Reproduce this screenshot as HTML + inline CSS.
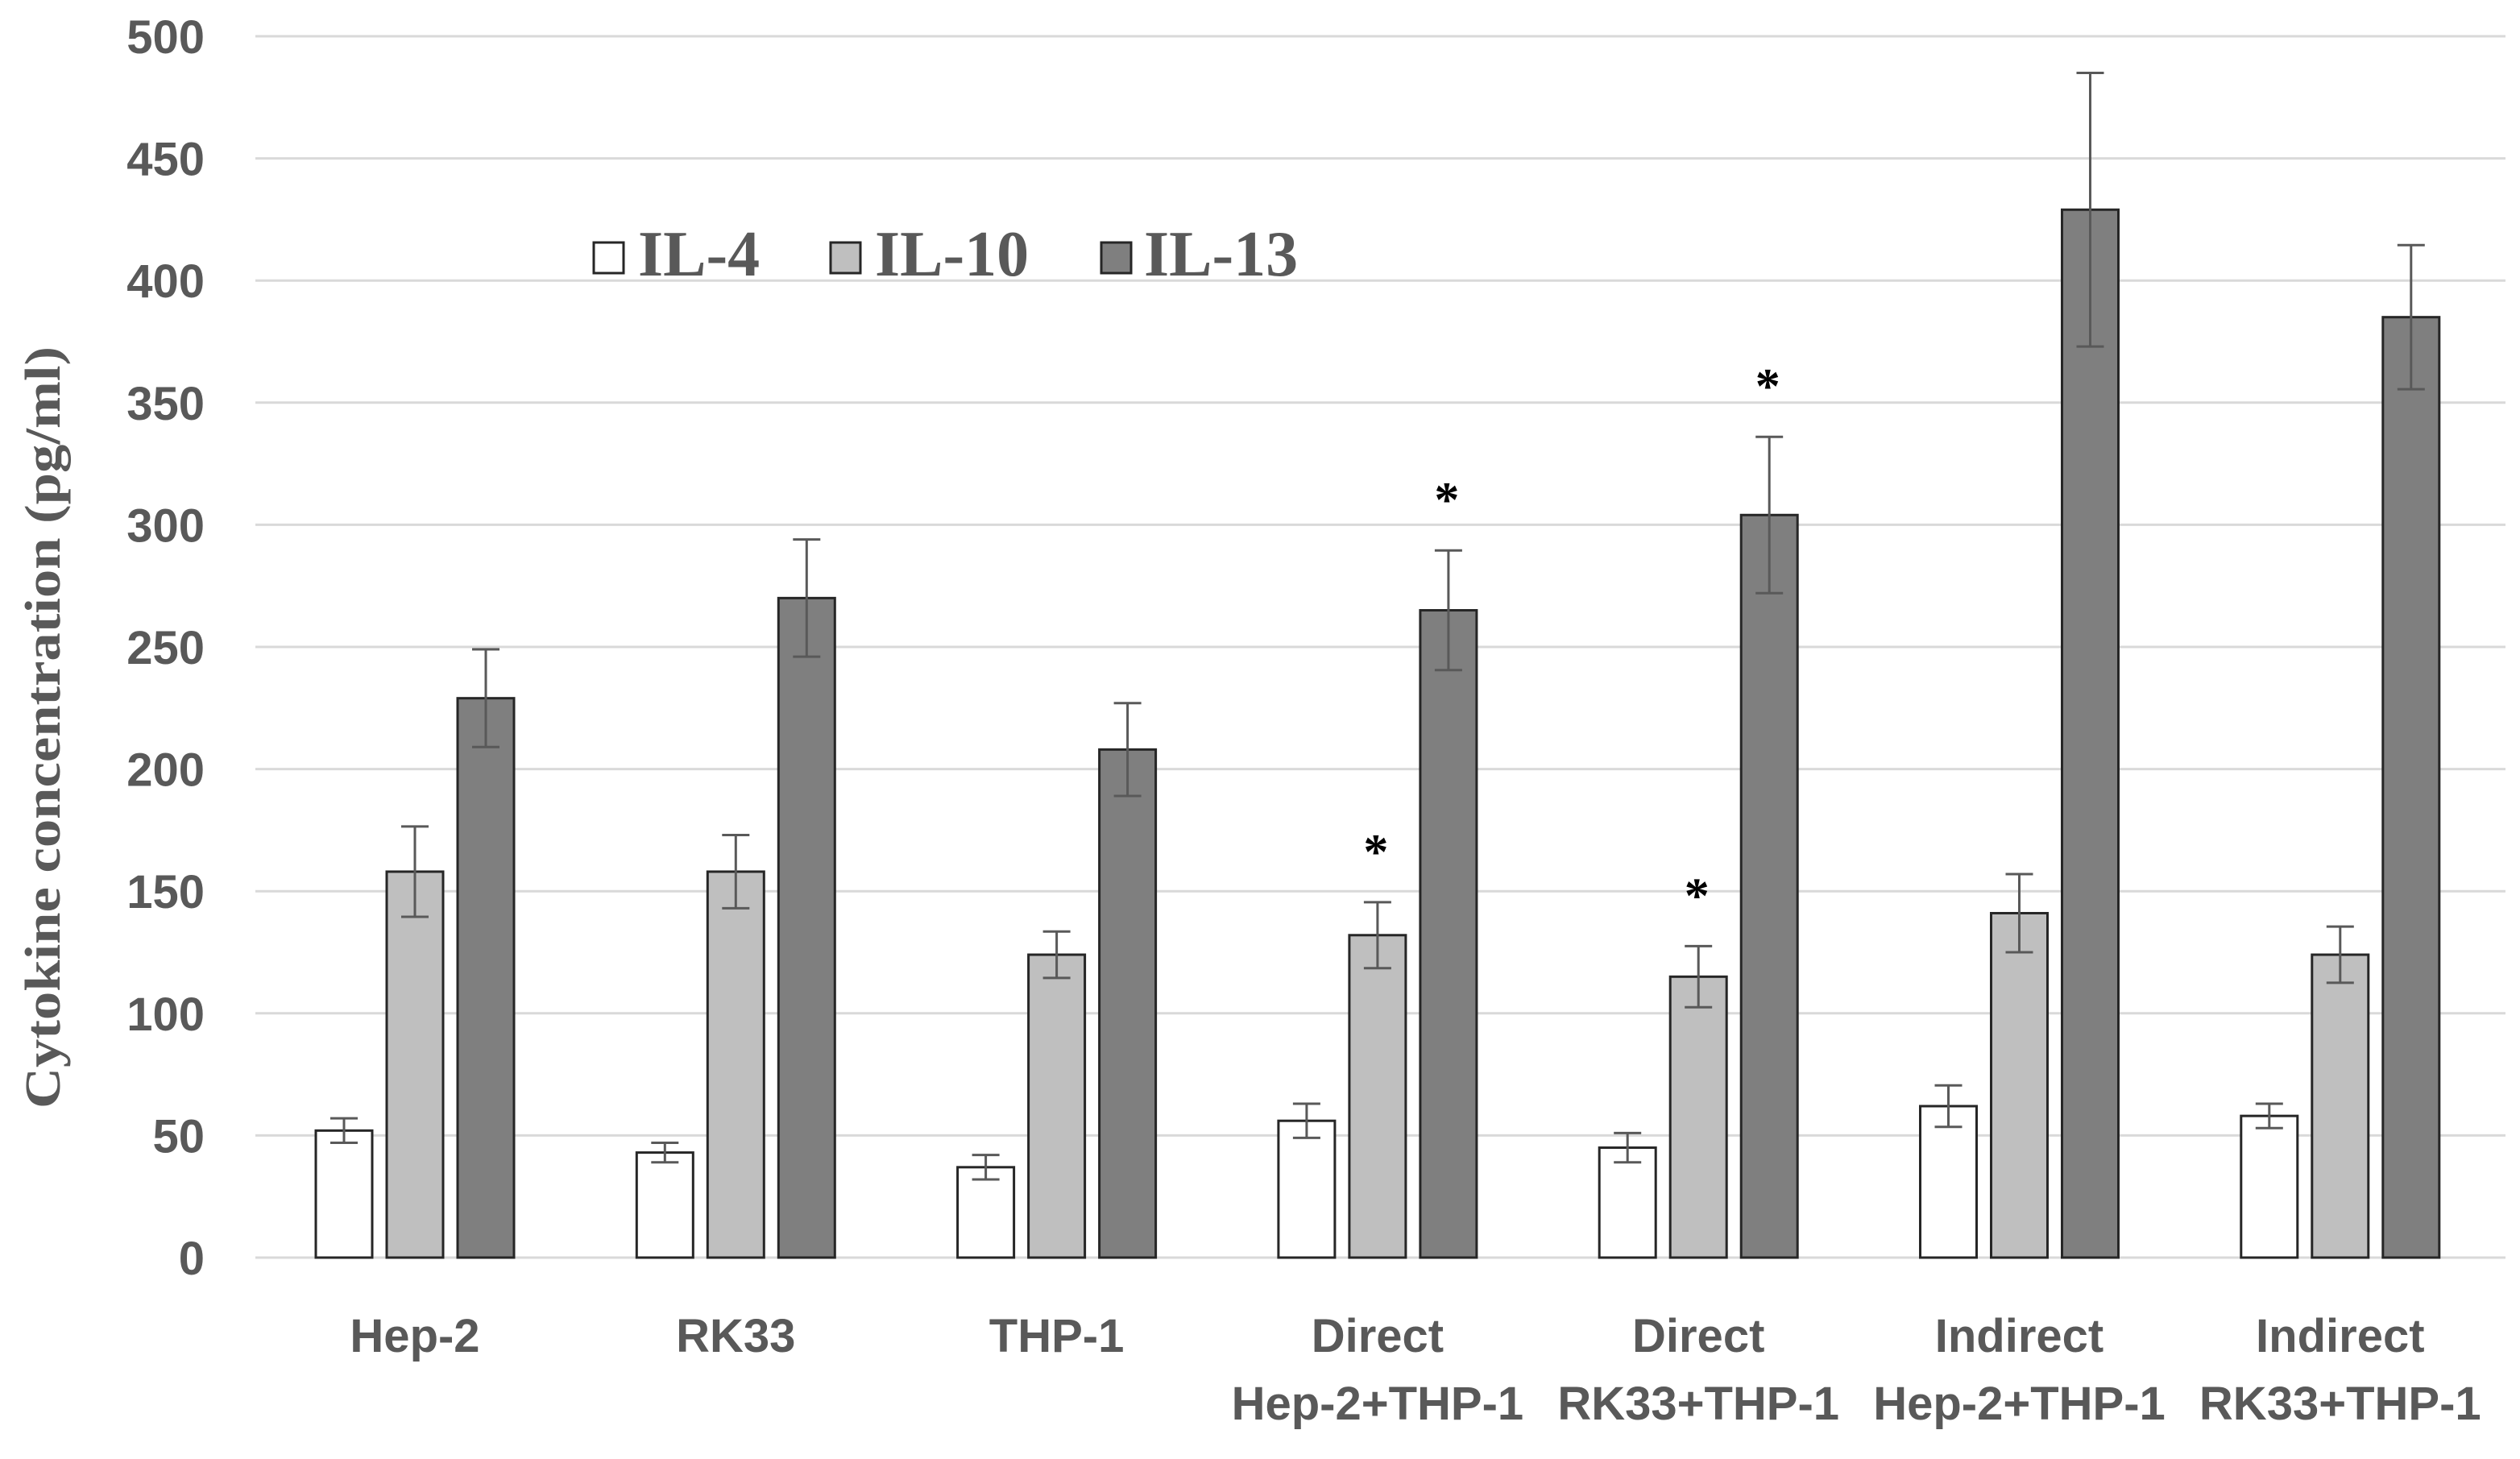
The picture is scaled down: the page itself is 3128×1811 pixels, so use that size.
<!DOCTYPE html>
<html><head><meta charset="utf-8"><style>
html,body{margin:0;padding:0;background:#fff;}
svg{display:block;}
</style></head><body>
<svg id="chart" width="3128" height="1811" viewBox="0 0 3128 1811" xmlns="http://www.w3.org/2000/svg">
<g id="grid"></g>
<g id="yticks"></g>
<g id="bars"></g>
<g id="xlabels"></g>
<text transform="translate(74,903) rotate(-90)" text-anchor="middle" font-family="Liberation Serif, serif" font-weight="bold" font-size="62" fill="#595959" textLength="946" lengthAdjust="spacingAndGlyphs">Cytokine concentration (pg/ml)</text>
<g>
  <g>
    <rect x="737" y="301" width="37" height="38" fill="#fff" stroke="#262626" stroke-width="3"/>
    <text x="792" y="342" font-family="Liberation Serif, serif" font-weight="bold" font-size="80" fill="#595959">IL-4</text>
  </g>
  <g>
    <rect x="1031" y="301" width="37" height="38" fill="#bfbfbf" stroke="#262626" stroke-width="3"/>
    <text x="1086" y="342" font-family="Liberation Serif, serif" font-weight="bold" font-size="80" fill="#595959">IL-10</text>
  </g>
  <g>
    <rect x="1367" y="301" width="37" height="38" fill="#7f7f7f" stroke="#262626" stroke-width="3"/>
    <text x="1420" y="342" font-family="Liberation Serif, serif" font-weight="bold" font-size="80" fill="#595959">IL-13</text>
  </g>
</g>
</svg>
<script>
const categories1 = ["Hep-2","RK33","THP-1","Direct","Direct","Indirect","Indirect"];
const categories2 = ["","","","Hep-2+THP-1","RK33+THP-1","Hep-2+THP-1","RK33+THP-1"];
const il4 = [52,43,37,56,45,62,58];
const il4Err = [5,4,5,7,6,8.5,5];
const il10 = [158,158,124,132,115,141,124];
const il10Err = [18.5,15,9.5,13.5,12.5,16,11.5];
const il13 = [229,270,208,265,304,429,385];
const il13Err = [20,24,19,24.5,32,56,29.5];
const il10Sig = [false,false,false,true,true,false,false];
const il13Sig = [false,false,false,true,true,false,false];
const yTicks = [0,50,100,150,200,250,300,350,400,450,500];

const NS = "http://www.w3.org/2000/svg";
const plotL = 317, plotR = 3110, y0 = 1561, yTop = 45, yMax = 500;
const yScale = v => y0 - v * (y0 - yTop) / yMax;
const groupW = 398.3, firstCenter = 515;
const xCenter = i => firstCenter + groupW * i;
const barW = 70, pitch = 88;
function mk(tag, attrs, parent){ const e = document.createElementNS(NS, tag); for (const k in attrs) e.setAttribute(k, attrs[k]); parent.appendChild(e); return e; }

const grid = document.getElementById('grid');
const yt = document.getElementById('yticks');
yTicks.forEach(v => {
  const y = yScale(v);
  const l = mk('line', {x1: plotL, x2: plotR, y1: y, y2: y, stroke: '#d9d9d9', 'stroke-width': 3}, grid);
  
  
  const t = mk('text', {x: 254, y: y + 21, 'text-anchor': 'end', 'font-family': 'Liberation Sans, sans-serif', 'font-weight': 'bold', 'font-size': 58, fill: '#595959'}, yt);
  t.textContent = v;
  
  
});

const bars = document.getElementById('bars');
const series = [
  {name: 'il4', vals: il4, err: il4Err, fill: '#ffffff', sig: null},
  {name: 'il10', vals: il10, err: il10Err, fill: '#bfbfbf', sig: il10Sig},
  {name: 'il13', vals: il13, err: il13Err, fill: '#7f7f7f', sig: il13Sig}
];
series.forEach((s, si) => {
  s.vals.forEach((v, i) => {
    const cx = xCenter(i) + (si - 1) * pitch;
    const y = yScale(v);
    const r = mk('rect', {x: cx - barW/2, y: y, width: barW, height: y0 - y, fill: s.fill, stroke: '#262626', 'stroke-width': 3}, bars);
    
    
    const hi = yScale(v + s.err[i]), lo = yScale(v - s.err[i]);
    const eg = mk('g', {stroke: '#595959', 'stroke-width': 3}, bars);
    
    
    mk('line', {x1: cx, x2: cx, y1: hi, y2: lo}, eg);
    mk('line', {x1: cx - 17, x2: cx + 17, y1: hi, y2: hi}, eg);
    mk('line', {x1: cx - 17, x2: cx + 17, y1: lo, y2: lo}, eg);
    if (s.sig && s.sig[i]) {
      const a = mk('text', {x: cx - 2, y: hi - 42, 'text-anchor': 'middle', 'font-family': 'Liberation Serif, serif', 'font-weight': 'bold', 'font-size': 62, fill: '#000'}, bars);
      a.textContent = '*';
      
      
    }
  });
});

const xl = document.getElementById('xlabels');
categories1.forEach((c, i) => {
  const t = mk('text', {x: xCenter(i), y: 1678, 'text-anchor': 'middle', 'font-family': 'Liberation Sans, sans-serif', 'font-weight': 'bold', 'font-size': 58, fill: '#595959'}, xl);
  t.textContent = c;
  
  
  if (categories2[i]) {
    const t2 = mk('text', {x: xCenter(i), y: 1762, 'text-anchor': 'middle', 'font-family': 'Liberation Sans, sans-serif', 'font-weight': 'bold', 'font-size': 58, fill: '#595959'}, xl);
    t2.textContent = categories2[i];
    
    
  }
});
</script>
</body></html>
